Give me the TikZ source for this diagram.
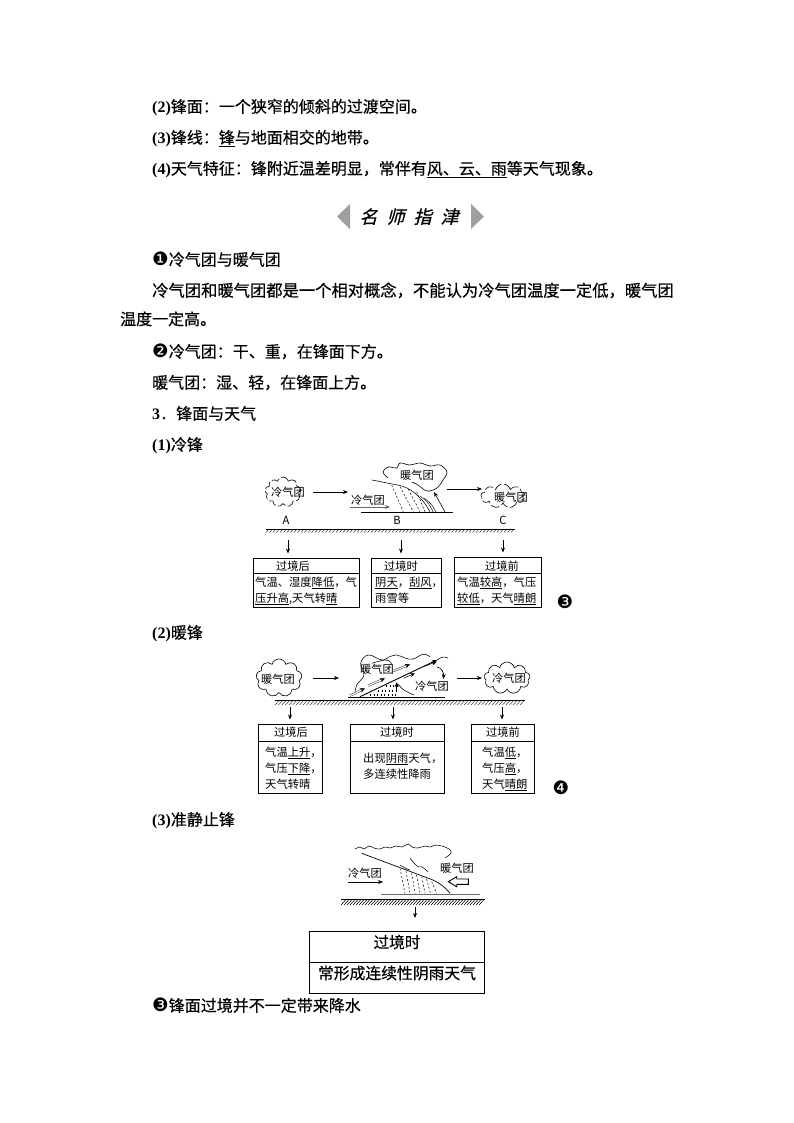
\documentclass[tikz,border=0pt]{standalone}
\usepackage{fontspec}
\usetikzlibrary{arrows.meta,shapes.symbols}
\setmainfont[FakeBold=0.4]{Noto Sans CJK SC}
\newfontfamily\plainf{Noto Sans CJK SC}
\newfontfamily\serifb{Liberation Serif Bold}
\newfontfamily\circf{DejaVu Sans}
\newfontfamily\bannerf[FakeSlant=0.25,FakeBold=0.7]{Noto Sans CJK SC}
\newcommand{\lat}[1]{{\serifb #1}}
\newcommand{\circn}[1]{{\circf\fontsize{18.5}{16}\selectfont #1}}
\tikzset{
  x=1pt,y=-1pt,
  body/.style={anchor=base west,inner sep=0pt,font=\fontsize{16}{16}\selectfont},
  lab/.style={anchor=base,inner sep=0pt,font=\plainf\fontsize{11.2}{12}\selectfont},
  boxtxt/.style={anchor=base west,inner sep=0pt,align=left,font=\plainf\fontsize{11.3}{16}\selectfont},
  fbox/.style={draw,line width=0.8pt,inner sep=0pt,anchor=north west},
  arr/.style={-{Stealth[length=5pt,width=4pt]},line width=0.6pt},
  downarr/.style={-{Stealth[length=5pt,width=4pt]},line width=0.7pt,shorten >=4.5pt},
  baseln/.style={line width=0.9pt,gray!80!black},
  rain/.style={line width=0.5pt,dash pattern=on 2pt off 2pt},
  ticks/.style={line width=2pt,dash pattern=on 0.6pt off 3pt},
  wig/.style={line width=0.55pt,smooth,tension=0.7},
  puff/.style={cloud,cloud puffs=9,cloud ignores aspect,draw,line width=0.6pt,inner sep=0pt},
  brokenpuff/.style={puff,dash pattern=on 9pt off 2.5pt},
  hatchl/.style={line width=0.35pt},
}
\begin{document}
\begin{tikzpicture}
\useasboundingbox (0,0) rectangle (794,1123);
\fill[white] (0,0) rectangle (794,1123);

% body text
\node[body] (t2) at (152,112.5) {\lat{(2)}锋面：一个狭窄的倾斜的过渡空间。};
\node[body] (t3) at (152,143.5) {\lat{(3)}锋线：\underline{锋}与地面相交的地带。};
\node[body] (t4) at (152,174.5) {\lat{(4)}天气特征：锋附近温差明显，常伴有\underline{风、云、雨}等天气现象。};
\fill[gray!75] (350,204) -- (337,216.5) -- (350,229) -- cycle;
\fill[gray!75] (471,204) -- (484,216.5) -- (471,229) -- cycle;
\node[anchor=base,inner sep=0pt,font=\bannerf\fontsize{18}{18}\selectfont] (ban) at (409,223.5) {名\hspace{9pt}师\hspace{9pt}指\hspace{9pt}津};
\node[body] (n1) at (152,265.5) {\circn{❶}冷气团与暖气团};
\node[body,font=\fontsize{16.3}{16}\selectfont] (n1a) at (152,296.5) {冷气团和暖气团都是一个相对概念，不能认为冷气团温度一定低，暖气团};
\node[body] (n1b) at (120,325) {温度一定高。};
\node[body] (n2) at (152,357.5) {\circn{❷}冷气团：干、重，在锋面下方。};
\node[body] (n2a) at (152,388.5) {暖气团：湿、轻，在锋面上方。};
\node[body] (s3) at (152,419.5) {\lat{3}．锋面与天气};
\node[body] (s31) at (152,450.5) {\lat{(1)}冷锋};
\node[body] (s32) at (152,638.5) {\lat{(2)}暖锋};
\node[body] (s33) at (152,825.5) {\lat{(3)}准静止锋};
\node[body] (n3) at (152,1011.5) {\circn{❸}锋面过境并不一定带来降水};

%% ---------- cold front ----------
\node[brokenpuff,minimum width=36pt,minimum height=30pt] (ca) at (283,492) {};
\node[brokenpuff,minimum width=44pt,minimum height=24pt] (cc) at (503,496) {};
\draw[line width=0.6pt,smooth,tension=0.6] plot coordinates {(388,478) (383,472) (388,467) (397,468) (400,463) (410,465) (420,463) (430,466) (440,465) (447,472) (443,480) (437,488) (427,491) (418,485) (412,482)};
\node[lab] (l1a) at (288,496) {冷气团};
\node[lab] (l1b) at (368,504) {冷气团};
\node[lab] (l1c) at (417,479) {暖气团};
\node[lab] (l1d) at (511,501) {暖气团};
\coordinate (a1s) at (313,492); \coordinate (a1e) at (348,492);
\draw[arr] (a1s) -- (a1e);
\coordinate (a2s) at (350,507); \coordinate (a2e) at (390,507);
\draw[arr,line width=0.9pt,gray!80!black] (a2s) -- (a2e);
\draw[line width=0.7pt] (361,512) -- (453,512);
\draw[wig] plot coordinates {(372,480) (387,483) (407,488) (422,500) (430,512)};
\draw[wig,line width=0.4pt] plot coordinates {(420,496) (428,503) (433,512)};
\draw[wig,line width=0.4pt] plot coordinates {(424,498) (431,504) (436,512)};
\draw[rain] (391.7,485) -- (403.3,511.7);
\draw[rain] (400,486.7) -- (413.3,511.7);
\draw[rain] (408.3,489.3) -- (420,511.7);
\draw[rain] (416.7,491.7) -- (425,511.7);
\coordinate (a3s) at (445,512); \coordinate (a3e) at (434,492);
\draw[arr] (a3s) -- (a3e);
\coordinate (a4s) at (447,489); \coordinate (a4e) at (482,489);
\draw[arr] (a4s) -- (a4e);
\node[lab] (la) at (286,524) {A};
\node[lab] (lb) at (397,524) {B};
\node[lab] (lc) at (503,524) {C};
\draw[line width=0.8pt] (266,529) -- (515,529);
\foreach \x in {266,269.5,...,512} \draw[hatchl] (\x,532.5) -- (\x+3,529);

\node[fbox,minimum width=106pt,minimum height=49pt] (b11) at (253,558) {};
\node[fbox,minimum width=70pt,minimum height=49pt] (b12) at (371,558) {};
\node[fbox,minimum width=87pt,minimum height=50pt] (b13) at (454,557) {};
\draw[line width=0.7pt] (b11.north west |- 0,573) -- (b11.north east |- 0,573);
\draw[line width=0.7pt] (b12.north west |- 0,573) -- (b12.north east |- 0,573);
\draw[line width=0.7pt] (b13.north west |- 0,573) -- (b13.north east |- 0,573);
\coordinate (d11) at (288,540); \coordinate (d12) at (401,540); \coordinate (d13) at (503,540);
\draw[downarr] (d11) -- (d11 |- b11.north);
\draw[downarr] (d12) -- (d12 |- b12.north);
\draw[downarr] (d13) -- (d13 |- b13.north);
\node[lab] (h11) at (293,570) {过境后};
\node[lab] (h12) at (401,570) {过境时};
\node[lab] (h13) at (502,570) {过境前};
\node[boxtxt] (x11) at (255,602) {气温、湿度\underline{降低}，气\\\underline{压升高},天气转\underline{晴}};
\node[boxtxt] (x12) at (375,602) {\underline{阴天}，\underline{刮风}，\\雨雪等};
\node[boxtxt] (x13) at (457,602) {气温\underline{较高}，气压\\\underline{较低}，天气\underline{晴朗}};
\node[anchor=center,inner sep=0pt,font=\circf\fontsize{18.5}{18}\selectfont] (m3) at (565,602) {❸};

%% ---------- warm front ----------
\node[puff,minimum width=46pt,minimum height=38pt] (cl2) at (279,678) {};
\node[puff,minimum width=46pt,minimum height=32pt] (cr2) at (507,678) {};
\node[lab] (l2a) at (278,683) {暖气团};
\node[lab] (l2b) at (377,673) {暖气团};
\node[lab] (l2c) at (432,690) {冷气团};
\node[lab] (l2d) at (509,682) {冷气团};
\coordinate (a5s) at (313,678); \coordinate (a5e) at (339,678);
\draw[arr] (a5s) -- (a5e);
\coordinate (a6s) at (457,678); \coordinate (a6e) at (482,678);
\draw[arr] (a6s) -- (a6e);
\draw[line width=0.8pt] (348,697.5) -- (445,697.5);
\coordinate (f2s) at (360,696.7); \coordinate (f2e) at (437,660);
\draw[-{Stealth[length=5pt,width=4pt]},line width=0.9pt] (f2s) -- (f2e);
\draw[wig] plot coordinates {(437,660) (443,657) (448,658)};
\draw[wig] plot coordinates {(355,694.3) (356.7,685) (364,675) (360.7,663.3) (368.3,655) (381.7,660) (389,657) (396.7,655) (405,658) (413,659) (423,654.3) (430,656.7)};
\draw[wig] plot coordinates {(371.7,663.3) (386.7,660) (392,665)};
\draw[double,double distance=1.2pt,line width=0.4pt,-{Stealth[length=5pt,width=4.5pt]}] (350,695.7) -- (365,688.3);
\draw[double,double distance=1.2pt,line width=0.4pt,-{Stealth[length=5pt,width=4.5pt]}] (368.3,685.7) -- (385,678.3);
\draw[double,double distance=1.2pt,line width=0.4pt,-{Stealth[length=5pt,width=4.5pt]}] (393.3,671) -- (410,664.3);
\draw[arr,line width=0.5pt] (403.3,678.3) -- (415,673.3);
\draw[arr,line width=0.5pt] (423.3,666.7) -- (436.7,661.7);
\draw[ticks] (370,695) -- (397,695);
\draw[ticks] (378,690.5) -- (397,690.5);
\draw[ticks] (386,686) -- (397,686);
\coordinate (a7s) at (396.7,691.7); \coordinate (a7e) at (396.7,682);
\draw[arr] (a7s) -- (a7e);
\draw[wig] plot coordinates {(398,684) (404,690) (414,695)};
\coordinate (a8s) at (436.7,666.7); \coordinate (a8e) at (443.3,679);
\draw[arr] (a8s) .. controls (442,668) and (444,673) .. (a8e);
\draw[line width=0.8pt] (275,700) -- (525,700);
\foreach \x in {275,278.5,...,521} \draw[hatchl] (\x,705) -- (\x+4,700.5);

\node[fbox,minimum width=64pt,minimum height=69pt] (b21) at (258,724) {};
\node[fbox,minimum width=94pt,minimum height=69pt] (b22) at (350,724) {};
\node[fbox,minimum width=63pt,minimum height=69pt] (b23) at (471,724) {};
\draw[line width=0.7pt] (b21.north west |- 0,741) -- (b21.north east |- 0,741);
\draw[line width=0.7pt] (b22.north west |- 0,741) -- (b22.north east |- 0,741);
\draw[line width=0.7pt] (b23.north west |- 0,741) -- (b23.north east |- 0,741);
\coordinate (d21) at (290,707); \coordinate (d22) at (393,707); \coordinate (d23) at (502,707);
\draw[downarr] (d21) -- (d21 |- b21.north);
\draw[downarr] (d22) -- (d22 |- b22.north);
\draw[downarr] (d23) -- (d23 |- b23.north);
\node[lab] (h21) at (291,736) {过境后};
\node[lab] (h22) at (397,736) {过境时};
\node[lab] (h23) at (503,736) {过境前};
\node[boxtxt] (x21) at (265,788) {气温\underline{上升}，\\气压\underline{下降}，\\天气转晴};
\node[boxtxt] (x22) at (363,778) {出现\underline{阴雨}天气，\\多连续性降雨};
\node[boxtxt] (x23) at (482,788) {气温\underline{低}，\\气压\underline{高}，\\天气\underline{晴朗}};
\node[anchor=center,inner sep=0pt,font=\circf\fontsize{18.5}{18}\selectfont] (m4) at (561,788) {❹};

%% ---------- stationary front ----------
\draw[wig] plot coordinates {(355,849) (360,847) (364,849) (369,846) (374,848) (380,849) (385,847) (390,848) (396,846) (402,847) (408,844) (412,847) (418,848) (425,846) (430,847) (436,845) (442,846) (449,849) (451,853) (445,858)};
\draw[wig] plot coordinates {(410,858) (413,862) (418,866.7) (422,867) (428,871.7)};
\draw[wig] plot coordinates {(400,865) (405,868) (410,870)};
\draw[line width=0.7pt] (361.7,853.3) -- (433,880) .. controls (441,884) and (446,888) .. (450,893.3);
\node[lab] (l3a) at (365,877) {冷气团};
\node[lab] (l3b) at (457,872) {暖气团};
\coordinate (a9s) at (348,882); \coordinate (a9e) at (383,882);
\draw[arr] (a9s) -- (a9e);
\draw[rain] (400,868.3) -- (405,893.3);
\draw[rain] (406,871) -- (410,893.3);
\draw[rain] (411.7,873) -- (415,893.3);
\draw[rain] (416.5,875) -- (420,893.3);
\draw[rain] (421.7,876.7) -- (425,893.3);
\draw[rain] (426.5,879) -- (430.5,893.3);
\draw[rain] (431.7,881.7) -- (436.7,893.3);
\draw[line width=0.9pt] (448.3,881.7) -- (456.7,876.7) -- (456.7,879) -- (468.3,879) -- (468.3,884.4) -- (456.7,884.4) -- (456.7,886.7) -- cycle;
\draw[baseln] (381,894) -- (480,894);
\foreach \x in {341,344,...,480} \draw[hatchl,line width=0.55pt] (\x,905) -- (\x+5,899.5);
\draw[line width=0.5pt] (341,899.5) -- (485,899.5);

\node[fbox,minimum width=175pt,minimum height=62pt] (b31) at (309,931) {};
\draw[line width=0.7pt] (b31.north west |- 0,962) -- (b31.north east |- 0,962);
\coordinate (d31) at (415,907);
\draw[downarr,shorten >=13pt] (d31) -- (d31 |- b31.north);
\node[anchor=base,inner sep=0pt,font=\fontsize{15.6}{16}\selectfont] (h31) at (397,948) {过境时};
\node[anchor=base,inner sep=0pt,font=\fontsize{15.8}{16}\selectfont] (x31) at (397,979) {常形成连续性阴雨天气};
\end{tikzpicture}
\end{document}
